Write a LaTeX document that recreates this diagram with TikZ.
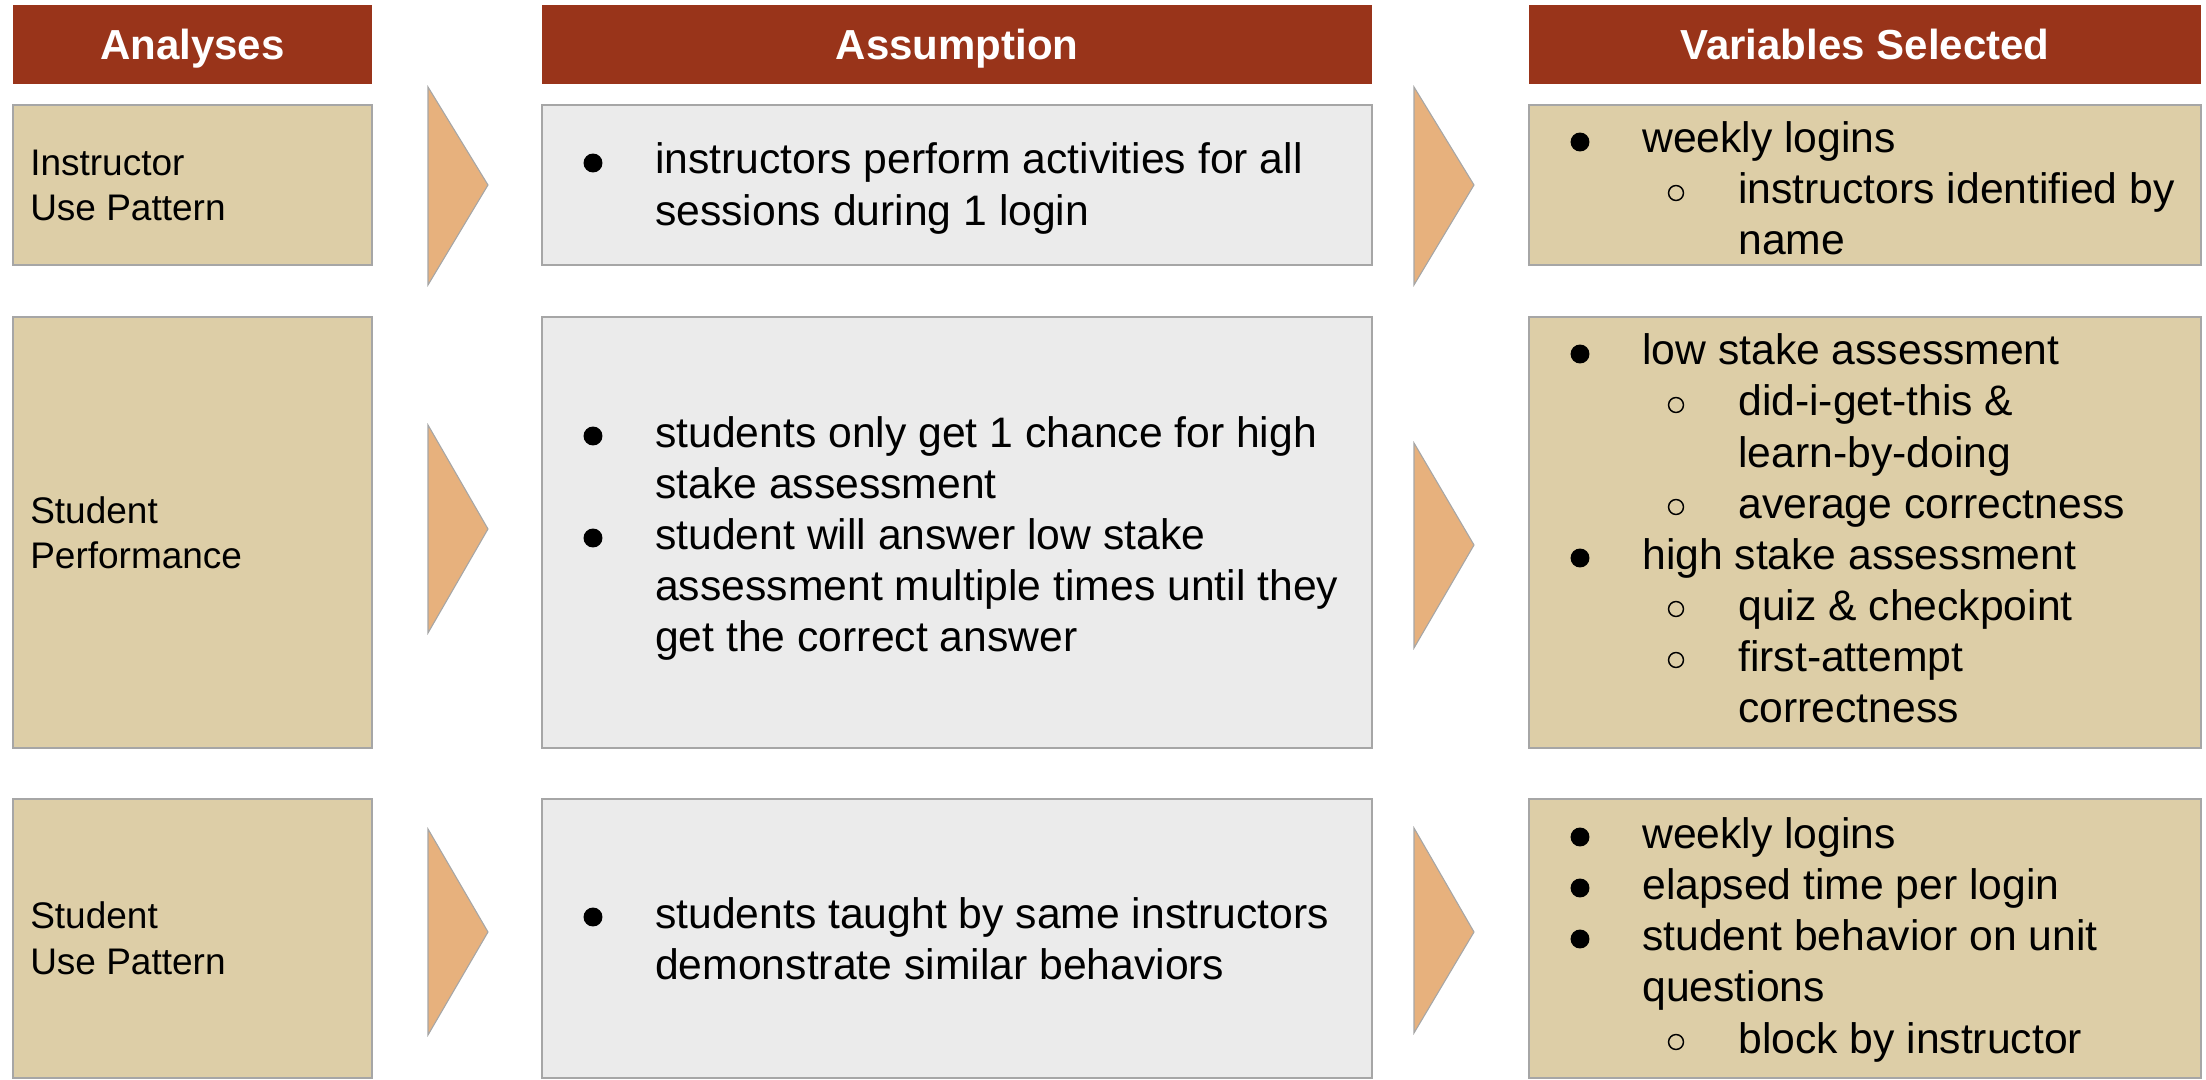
\documentclass[tikz,border=0pt]{standalone}
\usepackage{fontspec}
\setmainfont{Liberation Sans}
\definecolor{hdrred}{RGB}{153,52,26}
\definecolor{tanfill}{RGB}{221,206,167}
\definecolor{lgray}{RGB}{235,235,235}
\definecolor{bord}{RGB}{166,166,166}
\definecolor{chevfill}{RGB}{231,177,125}
\begin{document}
\begin{tikzpicture}[x=0.75pt,y=-0.75pt,
  hdr/.style={fill=hdrred,draw=none},
  tanbox/.style={fill=tanfill,draw=bord,line width=1.1pt},
  graybox/.style={fill=lgray,draw=bord,line width=1.1pt},
  chev/.style={fill=chevfill,draw=bord,line width=0.8pt,line join=miter},
  hdrtxt/.style={anchor=base,inner sep=0pt,text=white,font=\bfseries\fontsize{31.5}{38}\selectfont},
  lefttxt/.style={anchor=base west,inner sep=0pt,font=\fontsize{27.75}{33}\selectfont},
  body/.style={anchor=base west,inner sep=0pt,font=\fontsize{32}{38}\selectfont},
  bdot/.style={fill=black},
  hdot/.style={draw=black,line width=1.1pt}
]
\useasboundingbox (0,0) rectangle (2206,1080);
\fill[white] (0,0) rectangle (2206,1080);

% headers
\fill[hdr] (13,5) rectangle (372,84);
\fill[hdr] (542,5) rectangle (1372,84);
\fill[hdr] (1529,5) rectangle (2201,84);
\node[hdrtxt] (h1) at (192.5,60) {Analyses};
\node[hdrtxt] (h2) at (957,60) {Assumption};
\node[hdrtxt] (h3) at (1865,60) {Variables Selected};

% ---------------- row 1
\draw[tanbox] (13,105) rectangle (372,265);
\node[lefttxt] (a1l1) at (30,176) {Instructor};
\node[lefttxt] (a1l2) at (30,221) {Use Pattern};
\draw[chev] (428,87) -- (488,185) -- (428,285) -- cycle;
\draw[graybox] (542,105) rectangle (1372,265);
\fill[bdot] (593,163) circle[radius=7.1pt];
\node[body] (b1l1) at (655,174) {instructors perform activities for all};
\node[body] (b1l2) at (655,226) {sessions during 1 login};
\draw[chev] (1414,87) -- (1474,185) -- (1414,285) -- cycle;
\draw[tanbox] (1529,105) rectangle (2201,265);
\fill[bdot] (1580,142) circle[radius=7.1pt];
\node[body] (c1l1) at (1642,153) {weekly logins};
\draw[hdot] (1676,193) circle[radius=5.6pt];
\node[body] (c1l2) at (1738,204) {instructors identified by};
\node[body] (c1l3) at (1738,255) {name};

% ---------------- row 2
\draw[tanbox] (13,317) rectangle (372,748);
\node[lefttxt] (a2l1) at (30,523) {Student};
\node[lefttxt] (a2l2) at (30,568) {Performance};
\draw[chev] (428,425) -- (488,529) -- (428,633) -- cycle;
\draw[graybox] (542,317) rectangle (1372,748);
\fill[bdot] (593,436) circle[radius=7.1pt];
\node[body] (b2l1) at (655,447) {students only get 1 chance for high};
\node[body] (b2l2) at (655,498) {stake assessment};
\fill[bdot] (593,538) circle[radius=7.1pt];
\node[body] (b2l3) at (655,549) {student will answer low stake};
\node[body] (b2l4) at (655,600) {assessment multiple times until they};
\node[body] (b2l5) at (655,651) {get the correct answer};
\draw[chev] (1414,443) -- (1474,545) -- (1414,648) -- cycle;
\draw[tanbox] (1529,317) rectangle (2201,748);
\fill[bdot] (1580,354) circle[radius=7.1pt];
\node[body] (c2l1) at (1642,365) {low stake assessment};
\draw[hdot] (1676,405) circle[radius=5.6pt];
\node[body] (c2l2) at (1738,416) {did-i-get-this \&};
\node[body] (c2l3) at (1738,467) {learn-by-doing};
\draw[hdot] (1676,507) circle[radius=5.6pt];
\node[body] (c2l4) at (1738,518) {average correctness};
\fill[bdot] (1580,558) circle[radius=7.1pt];
\node[body] (c2l5) at (1642,569) {high stake assessment};
\draw[hdot] (1676,609) circle[radius=5.6pt];
\node[body] (c2l6) at (1738,620) {quiz \& checkpoint};
\draw[hdot] (1676,660) circle[radius=5.6pt];
\node[body] (c2l7) at (1738,671) {first-attempt};
\node[body] (c2l8) at (1738,722) {correctness};

% ---------------- row 3
\draw[tanbox] (13,799) rectangle (372,1078);
\node[lefttxt] (a3l1) at (30,928) {Student};
\node[lefttxt] (a3l2) at (30,974) {Use Pattern};
\draw[chev] (428,829) -- (488,932) -- (428,1035) -- cycle;
\draw[graybox] (542,799) rectangle (1372,1078);
\fill[bdot] (593,917) circle[radius=7.1pt];
\node[body] (b3l1) at (655,928) {students taught by same instructors};
\node[body] (b3l2) at (655,979) {demonstrate similar behaviors};
\draw[chev] (1414,828) -- (1474,932) -- (1414,1033) -- cycle;
\draw[tanbox] (1529,799) rectangle (2201,1078);
\fill[bdot] (1580,837) circle[radius=7.1pt];
\node[body] (c3l1) at (1642,848) {weekly logins};
\fill[bdot] (1580,888) circle[radius=7.1pt];
\node[body] (c3l2) at (1642,899) {elapsed time per login};
\fill[bdot] (1580,939) circle[radius=7.1pt];
\node[body] (c3l3) at (1642,950) {student behavior on unit};
\node[body] (c3l4) at (1642,1001) {questions};
\draw[hdot] (1676,1042) circle[radius=5.6pt];
\node[body] (c3l5) at (1738,1053) {block by instructor};
\end{tikzpicture}
\end{document}
